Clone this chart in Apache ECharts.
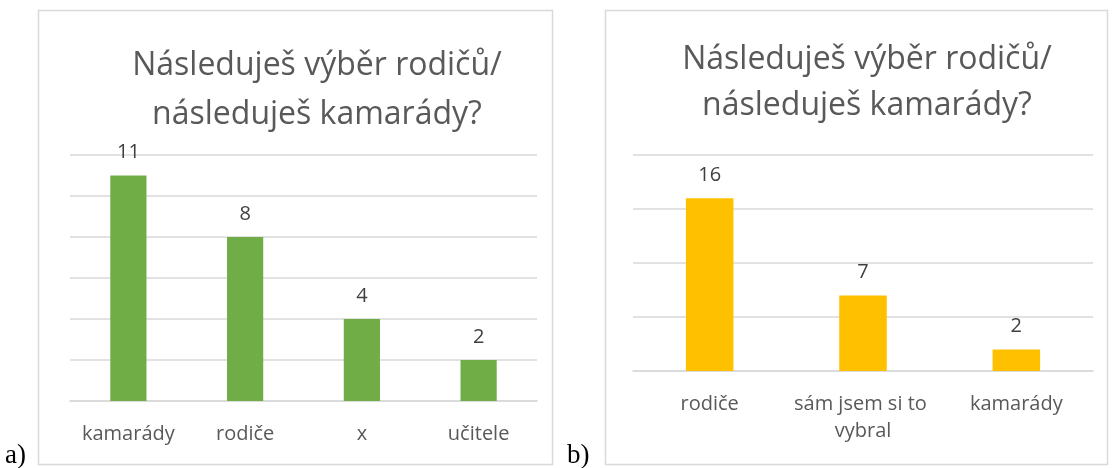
<!DOCTYPE html>
<html>
<head>
<meta charset="utf-8">
<script src="https://cdn.jsdelivr.net/npm/echarts@6/dist/echarts.min.js"></script>
<style>
  html, body { margin: 0; padding: 0; background: #fff; }
  #chart { width: 1112px; height: 468px; }
</style>
</head>
<body>
<div id="chart"></div>
<script>
  // panel a)
  const categoriesA = ['kamarády', 'rodiče', 'x', 'učitele']
  const valuesA = [11, 8, 4, 2]
  // panel b)
  const categoriesB = ['rodiče', 'sám jsem si to vybral', 'kamarády']
  const valuesB = [16, 7, 2]

  const titleText = 'Následuješ výběr rodičů/\nnásleduješ kamarády?'
  const font = '"Open Sans", "Noto Sans", sans-serif'
  const textColor = '#595959'
  const gridColor = '#d9d9d9'

  const chart = echarts.init(document.getElementById('chart'), null, { renderer: 'canvas' })

  function axisX(idx, data) {
    return {
      type: 'category',
      gridIndex: idx,
      data: data,
      axisTick: { show: false },
      axisLine: { lineStyle: { color: gridColor, width: 1.5 } },
      axisLabel: {
        color: textColor,
        fontSize: 20,
        fontFamily: font,
        margin: 20,
        lineHeight: 27,
        width: 150,
        overflow: 'break',
        interval: 0
      }
    }
  }

  function axisY(idx, max, interval) {
    return {
      type: 'value',
      gridIndex: idx,
      min: 0,
      max: max,
      interval: interval,
      axisLabel: { show: false },
      axisLine: { show: false },
      axisTick: { show: false },
      splitLine: { lineStyle: { color: gridColor, width: 1.5 } }
    }
  }

  function barSeries(idx, data, color) {
    return {
      type: 'bar',
      xAxisIndex: idx,
      yAxisIndex: idx,
      data: data,
      barWidth: '31%',
      itemStyle: { color: color },
      label: {
        show: true,
        position: 'top',
        distance: 13,
        color: '#404040',
        fontSize: 20,
        fontFamily: font
      },
      silent: true,
      animation: false
    }
  }

  chart.setOption({
    animation: false,
    title: [
      {
        text: titleText,
        left: 312,
        top: 36,
        textAlign: 'center',
        textStyle: { color: textColor, fontSize: 32, fontWeight: 'normal', fontFamily: font, lineHeight: 49 }
      },
      {
        text: titleText,
        left: 862,
        top: 32,
        textAlign: 'center',
        textStyle: { color: textColor, fontSize: 32, fontWeight: 'normal', fontFamily: font, lineHeight: 46 }
      }
    ],
    grid: [
      { left: 70, right: 575, top: 155, bottom: 67 },
      { left: 633, right: 19, top: 155, bottom: 97 }
    ],
    xAxis: [axisX(0, categoriesA), axisX(1, categoriesB)],
    yAxis: [axisY(0, 12, 2), axisY(1, 20, 5)],
    series: [barSeries(0, valuesA, '#70ad47'), barSeries(1, valuesB, '#ffc000')],
    graphic: [
      {
        type: 'rect',
        shape: { x: 38.5, y: 10.5, width: 514, height: 454 },
        style: { fill: null, stroke: '#d9d9d9', lineWidth: 1.5 },
        silent: true
      },
      {
        type: 'rect',
        shape: { x: 605.5, y: 10.5, width: 502, height: 454 },
        style: { fill: null, stroke: '#d9d9d9', lineWidth: 1.5 },
        silent: true
      },
      {
        type: 'text',
        left: 5,
        top: 442,
        style: { text: 'a)', fill: '#000', font: '27px "Liberation Serif", "DejaVu Serif", serif' }
      },
      {
        type: 'text',
        left: 567,
        top: 442,
        style: { text: 'b)', fill: '#000', font: '27px "Liberation Serif", "DejaVu Serif", serif' }
      }
    ]
  })
</script>
</body>
</html>
